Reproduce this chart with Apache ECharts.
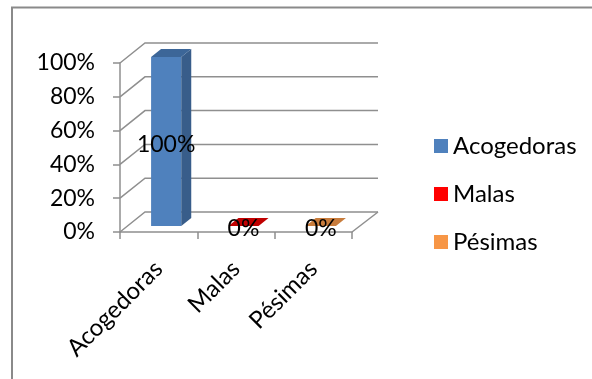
<!DOCTYPE html>
<html>
<head>
<meta charset="utf-8">
<script src="https://cdn.jsdelivr.net/npm/echarts@6/dist/echarts.min.js"></script>
<style>
  html, body { margin: 0; padding: 0; background: #fff; }
  #chart { width: 592px; height: 379px; }
</style>
</head>
<body>
<div id="chart"></div>
<script>
const categories = ['Acogedoras', 'Malas', 'Pésimas'];
const values = [1, 0, 0];
const yTicks = [0, 0.2, 0.4, 0.6, 0.8, 1];

const legendColors = ['#4F81BD', '#FF0000', '#F79646'];
const frontColors = ['#4F81BD', '#FF0000', '#F79646'];
const sideColors = ['#385D8A', '#A00000', '#B96A2E'];
const topColors = ['#3C6698', '#C00000', '#C87C3C'];

const FONT = 'Lato';
const WALL_DX = 25, WALL_DY = -20;
const gridColor = '#8f8f8f';

const pct = (v) => Math.round(v * 100) + '%';

const chart = echarts.init(document.getElementById('chart'));

// back wall + floor lines, fake 3d
function renderWall(params, api) {
  const cs = params.coordSys;
  const v = api.value(0);
  const p = api.coord([0, v]);
  const x0 = cs.x, x1 = cs.x + cs.width, y = p[1];
  const children = [{
    type: 'polyline',
    shape: { points: [[x0, y], [x0 + WALL_DX, y + WALL_DY], [x1 + WALL_DX + 1, y + WALL_DY]] },
    style: { stroke: gridColor, lineWidth: 1.5, fill: null },
  }];
  if (v === 0) {
    children.push({
      type: 'line',
      shape: { x1: x1, y1: y, x2: x1 + WALL_DX + 1, y2: y + WALL_DY },
      style: { stroke: gridColor, lineWidth: 1.5 },
    });
  }
  return { type: 'group', children };
}

function makeBarRender(i) {
  return function (params, api) {
    const idx = api.value(0);
    const v = api.value(1);
    const base = api.coord([idx, 0]);
    const top = api.coord([idx, v]);
    const band = api.size([1, 0])[0];
    const fw = band * 0.39;
    const sx = band * 0.097, sy = -6;
    const dx = 10, dy = -8;
    const left = base[0] + sx - fw / 2;
    const B = base[1] + sy;
    const T = top[1] + sy;
    const children = [];
    if (B - T > 0.5) {
      children.push({
        type: 'rect',
        shape: { x: left, y: T, width: fw, height: B - T },
        style: { fill: frontColors[i] },
      });
      children.push({
        type: 'polygon',
        shape: { points: [[left + fw, T], [left + fw + dx, T + dy], [left + fw + dx, B + dy], [left + fw, B]] },
        style: { fill: sideColors[i] },
      });
    }
    children.push({
      type: 'polygon',
      shape: { points: [[left, T], [left + dx, T + dy], [left + fw + dx, T + dy], [left + fw, T]] },
      style: { fill: topColors[i] },
    });
    children.push({
      type: 'text',
      style: {
        x: left + fw / 2, y: (T + B) / 2 + 3,
        text: pct(v),
        fill: '#000', font: '23px ' + FONT,
        align: 'center', verticalAlign: 'middle',
      },
      z2: 10,
    });
    return { type: 'group', children };
  };
}

const barSeries = categories.map((name, i) => ({
  name,
  type: 'custom',
  renderItem: makeBarRender(i),
  itemStyle: { color: legendColors[i] },
  data: [[i, values[i]]],
  z: 5,
  silent: true,
}));

chart.setOption({
  animation: false,
  textStyle: { fontFamily: FONT },
  graphic: [
    { type: 'line', shape: { x1: 11, y1: 7.5, x2: 592, y2: 7.5 }, style: { stroke: '#8a8a8a', lineWidth: 2 } },
    { type: 'line', shape: { x1: 12, y1: 7, x2: 12, y2: 379 }, style: { stroke: '#8a8a8a', lineWidth: 2 } },
  ],
  grid: { left: 120, top: 63, width: 232, height: 169 },
  legend: {
    orient: 'vertical',
    left: 429, top: 129,
    icon: 'rect',
    itemWidth: 14, itemHeight: 14,
    itemGap: 24,
    textStyle: { fontSize: 24, fontFamily: FONT, color: '#000' },
    data: categories,
  },
  xAxis: {
    type: 'category',
    data: categories,
    boundaryGap: true,
    axisLine: { lineStyle: { color: gridColor, width: 1.5 } },
    axisTick: { show: true, length: 7, alignWithLabel: false, lineStyle: { color: gridColor, width: 1.5 } },
    axisLabel: { rotate: 45, fontSize: 24, color: '#000', fontFamily: FONT, margin: 33, interval: 0 },
    splitLine: { show: false },
  },
  yAxis: {
    type: 'value',
    min: 0, max: 1, interval: 0.2,
    axisLine: { show: true, lineStyle: { color: gridColor, width: 1.5 } },
    axisTick: { show: true, length: 7, lineStyle: { color: gridColor, width: 1.5 } },
    axisLabel: { formatter: pct, fontSize: 23, color: '#000', fontFamily: FONT, margin: 25 },
    splitLine: { show: false },
  },
  series: [
    {
      type: 'custom',
      renderItem: renderWall,
      data: yTicks.map((t) => [t]),
      encode: { y: 0 },
      z: 1,
      silent: true,
    },
    ...barSeries,
  ],
});
</script>
</body>
</html>
